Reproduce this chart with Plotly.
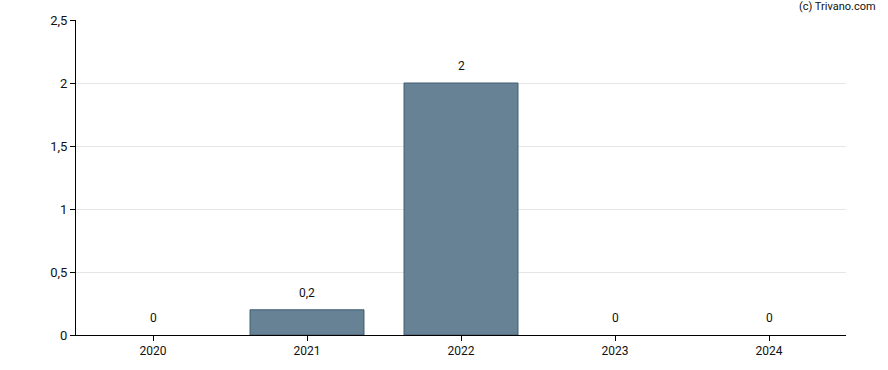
import plotly.graph_objects as go

years = ["2020", "2021", "2022", "2023", "2024"]
values = [0, 0.2, 2, 0, 0]
labels = ["0", "0,2", "2", "0", "0"]

fig = go.Figure()
fig.add_trace(go.Bar(
    x=years, y=values,
    marker=dict(color="#668294",
                line=dict(color="#3f5d72", width=[1 if v else 0 for v in values])),
    width=0.74,
    hoverinfo="skip",
))

for i, (y, t) in enumerate(zip(values, labels)):
    fig.add_annotation(x=i, y=y, text=t, showarrow=False, yanchor="bottom",
                       yshift=8, font=dict(size=12, color="#111111"))

fig.add_annotation(xref="paper", yref="paper", x=1.041, y=1.0, xanchor="right",
                   yanchor="bottom", yshift=5, text="(c) Trivano.com", showarrow=False,
                   font=dict(size=11, color="#111111"))

fig.update_layout(
    width=888, height=370,
    margin=dict(l=76, r=42, t=20, b=35, autoexpand=False),
    plot_bgcolor="white", paper_bgcolor="white",
    separators=",.",
    font=dict(family="Roboto, Arial, sans-serif", size=12, color="#111111"),
    showlegend=False,
    xaxis=dict(type="category", range=[-0.5, 4.5], showline=True,
               linecolor="#000000", linewidth=1,
               ticks="outside", ticklen=5, tickcolor="#000000",
               showgrid=False, tickfont=dict(size=12), automargin=False),
    yaxis=dict(range=[0, 2.5], tickvals=[0, 0.5, 1, 1.5, 2, 2.5],
               ticktext=["0", "0,5", "1", "1,5", "2", "2,5"],
               showline=True, linecolor="#000000", linewidth=1,
               ticks="outside", ticklen=5, tickcolor="#000000",
               showgrid=True, gridcolor="#e6e6e6", zeroline=False,
               tickfont=dict(size=13), automargin=False),
)

fig.write_html("out.html", config={"displayModeBar": False},
               post_script="document.body.style.margin='0';document.body.style.overflow='hidden';")
